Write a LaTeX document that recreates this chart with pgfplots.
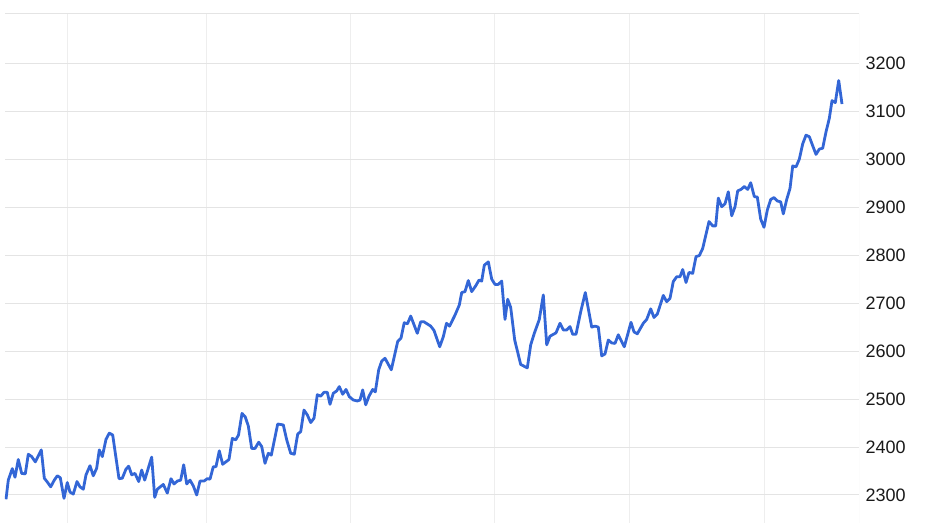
\documentclass[border=0pt]{standalone}
\usepackage{pgfplots}
\pgfplotsset{compat=1.18}
\usepackage{fontspec}
\setmainfont{Liberation Sans}
\definecolor{lineblue}{RGB}{51,102,214}
\definecolor{hgrid}{RGB}{228,228,228}
\definecolor{vgrid}{RGB}{238,238,238}
\begin{document}
\begin{tikzpicture}
\begin{axis}[
  at={(5pt,0pt)}, anchor=south west,
  scale only axis, width=854pt, height=509pt,
  xmin=5, xmax=859, ymin=2241.6, ymax=3302.7,
  axis line style={draw=none},
  xtick={67,206,350,494,629,764}, xticklabels={},
  ytick={2300,2400,...,3200},
  yticklabel pos=right,
  tick style={draw=none},
  xmajorgrids, ymajorgrids,
  x grid style={vgrid, line width=1pt},
  y grid style={hgrid, line width=1pt},
  /pgf/number format/assume math mode=true,
  /pgf/number format/1000 sep={},
  yticklabel style={font=\fontsize{18}{20}\selectfont, text=black!90, anchor=west, xshift=3pt},
  clip=true,
]
\draw[hgrid, line width=1pt] (rel axis cs:0,1) -- (rel axis cs:1,1) -- (rel axis cs:1,0);
\addplot[lineblue, line width=2.8pt, line join=round] coordinates {
(6,2291) (8.3,2331) (12.3,2355) (15,2337) (18.3,2374) (21.7,2345) (25.3,2344)
(28.3,2385) (31.7,2380) (35.3,2369) (41.3,2394) (44.3,2335) (47.7,2326) (50.7,2317)
(54.3,2331) (57.3,2340) (60.3,2336) (64,2293) (67.3,2326) (70,2306) (73.3,2302)
(77,2328) (80,2317) (83.3,2312) (86,2342) (90,2361) (93.3,2340) (96.7,2356)
(99.3,2394) (102.3,2380) (106,2416) (109.3,2429) (112.7,2425) (119,2334) (122.3,2335)
(126,2354) (128.7,2360) (131.7,2342) (135,2345) (138.7,2328) (141.7,2352) (144.7,2331)
(148.3,2356) (151.7,2379) (154.7,2295) (157.3,2312) (163.3,2322) (167.3,2304) (171,2334)
(174,2323) (177.3,2329) (180.7,2331) (183.7,2363) (186.7,2323) (190,2331) (193.3,2319)
(196.7,2300) (200,2329) (204,2329) (207.3,2334) (210,2333) (213.3,2359) (216,2359)
(219.3,2392) (222.7,2364) (229,2374) (232.3,2418) (235.7,2415) (238.5,2425) (242,2470)
(245.2,2463) (248.3,2444) (251.7,2397) (255,2397) (258.7,2410) (261.7,2401) (265,2366)
(268.3,2387) (271.3,2383) (277.7,2448) (283.3,2446) (286.7,2415) (290.7,2387) (294.3,2385)
(297.7,2427) (300.7,2432) (304,2477) (307.3,2467) (310.7,2451) (314,2460) (317.3,2509)
(320.7,2506) (324,2514) (327.3,2514) (330,2489) (333.3,2512) (336.7,2517) (339.3,2526)
(342.7,2510) (346,2520) (349.3,2505) (353.3,2498) (357.3,2496) (360,2498) (362.7,2519)
(365.7,2488) (369,2506) (372.7,2520) (375.3,2515) (378.7,2561) (381.7,2579) (385,2585)
(391.3,2561) (397.7,2620) (401,2627) (404.2,2659) (407.5,2657) (410.7,2673) (417.3,2637)
(420.7,2661) (424,2661) (430.7,2652) (434,2643) (439.7,2609) (443.3,2630) (446.5,2658)
(449.5,2652) (455,2675) (459.3,2696) (461.7,2722) (465,2724) (468.3,2747) (471.7,2724)
(475.7,2736) (479,2748) (481.7,2746) (484.3,2779) (488.3,2786) (491.7,2750) (495,2739)
(498.3,2739) (501.7,2746) (505,2666) (507.7,2708) (510.7,2691) (514.7,2623) (520.7,2572)
(527.3,2565) (530.7,2613) (534.3,2637) (539.3,2666) (543.3,2717) (546.7,2613) (550,2631)
(556,2638) (560,2658) (563.3,2644) (566.7,2644) (570,2651) (572.7,2635) (576,2635)
(580.7,2682) (585.3,2722) (591.7,2650) (595,2652) (598.3,2650) (601.7,2590) (605,2594)
(608.3,2623) (611.7,2617) (615,2616) (618.3,2634) (624.3,2609) (631,2660) (634,2640)
(637.3,2636) (643.3,2658) (646.7,2666) (650.7,2688) (654,2670) (657.3,2677) (663.3,2716)
(666.7,2703) (670,2710) (673.3,2745) (676.7,2755) (680,2755) (682.7,2770) (686,2743)
(689,2764) (692.7,2762) (696,2797) (699.3,2799) (702.7,2814) (709,2870) (712.7,2861)
(715.7,2861) (718.3,2919) (721.7,2901) (725,2907) (728.3,2932) (731.7,2882) (735,2901)
(737.7,2934) (741,2937) (744.3,2943) (747.7,2937) (750.7,2951) (754.3,2922) (757.3,2921)
(760.7,2875) (764,2858) (767.3,2894) (770.7,2916) (774,2920) (777.3,2913) (780.7,2911)
(783.3,2886) (786.7,2916) (790,2939) (792.7,2986) (796,2984) (799.3,3000) (802.7,3032)
(806,3050) (809.3,3047) (812.7,3028) (816,3010) (819.3,3021) (822.7,3023) (826,3057)
(829.3,3085) (832,3122) (835.3,3118) (838.7,3164) (842,3115)
};
\end{axis}
\pgfresetboundingbox
\path[use as bounding box] (0pt,0pt) rectangle (931pt,523pt);
\end{tikzpicture}
\end{document}
